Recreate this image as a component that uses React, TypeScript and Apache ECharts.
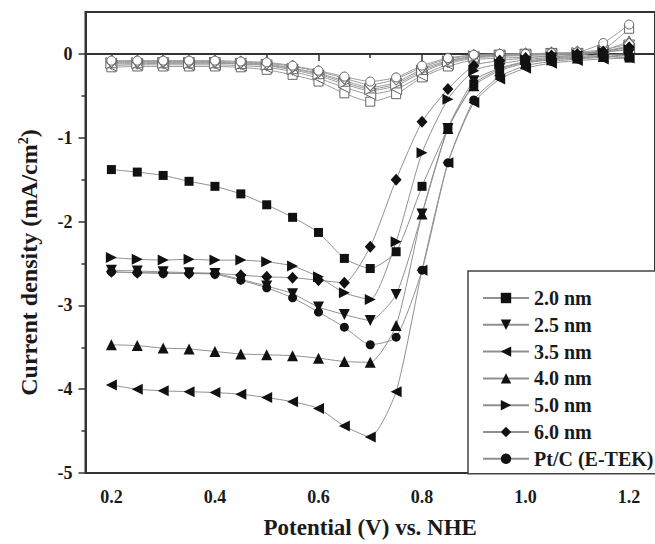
import React, { useEffect, useRef } from "react";
import * as echarts from "echarts";

const potentials = [0.2, 0.25, 0.3, 0.35, 0.4, 0.45, 0.5, 0.55, 0.6, 0.65, 0.7, 0.75, 0.8, 0.85, 0.9, 0.95, 1.0, 1.05, 1.1, 1.15, 1.2];

const seriesNames = ["2.0 nm", "2.5 nm", "3.5 nm", "4.0 nm", "5.0 nm", "6.0 nm", "Pt/C (E-TEK)"];

// O2-saturated (filled markers)
const s20 = [-1.38, -1.41, -1.45, -1.52, -1.58, -1.67, -1.80, -1.95, -2.13, -2.44, -2.56, -2.36, -1.58, -0.89, -0.36, -0.18, -0.10, -0.06, -0.04, -0.03, -0.05];
const s25 = [-2.58, -2.59, -2.60, -2.61, -2.62, -2.69, -2.77, -2.86, -3.02, -3.11, -3.18, -2.87, -1.91, -0.89, -0.32, -0.17, -0.09, -0.05, -0.03, -0.01, 0.0];
const s35 = [-3.95, -4.00, -4.02, -4.03, -4.04, -4.06, -4.10, -4.15, -4.23, -4.44, -4.57, -4.03, -2.58, -1.30, -0.58, -0.30, -0.17, -0.11, -0.08, -0.06, -0.05];
const s40 = [-3.47, -3.48, -3.51, -3.52, -3.55, -3.58, -3.59, -3.60, -3.63, -3.67, -3.68, -3.24, -1.91, -0.89, -0.38, -0.20, -0.11, -0.07, -0.05, -0.03, -0.01];
const s50 = [-2.43, -2.45, -2.46, -2.45, -2.46, -2.46, -2.48, -2.53, -2.66, -2.85, -2.93, -2.24, -1.18, -0.54, -0.20, -0.12, -0.07, -0.04, -0.01, 0.02, 0.05];
const s60 = [-2.60, -2.61, -2.61, -2.62, -2.62, -2.64, -2.66, -2.67, -2.70, -2.73, -2.30, -1.50, -0.81, -0.42, -0.14, -0.08, -0.05, -0.02, 0.0, 0.03, 0.08];
const sPt = [-2.60, -2.61, -2.62, -2.62, -2.63, -2.70, -2.79, -2.91, -3.08, -3.26, -3.47, -3.38, -2.58, -1.30, -0.55, -0.27, -0.14, -0.09, -0.06, -0.04, -0.02];

// background (hollow markers)
const b20 = [-0.16, -0.15, -0.15, -0.15, -0.15, -0.16, -0.19, -0.25, -0.33, -0.47, -0.57, -0.48, -0.28, -0.15, -0.07, -0.05, -0.04, -0.03, -0.02, 0.05, 0.30];
const b25 = [-0.12, -0.12, -0.11, -0.11, -0.11, -0.12, -0.14, -0.19, -0.26, -0.36, -0.44, -0.38, -0.22, -0.10, -0.04, -0.02, -0.01, 0.0, 0.0, 0.03, 0.10];
const b35 = [-0.14, -0.13, -0.13, -0.13, -0.13, -0.14, -0.16, -0.21, -0.29, -0.40, -0.48, -0.42, -0.26, -0.12, -0.05, -0.03, -0.02, -0.01, 0.0, 0.02, 0.06];
const b40 = [-0.10, -0.10, -0.10, -0.10, -0.10, -0.11, -0.12, -0.17, -0.23, -0.32, -0.40, -0.34, -0.18, -0.08, -0.03, -0.01, 0.0, 0.0, 0.01, 0.04, 0.15];
const b50 = [-0.11, -0.11, -0.11, -0.11, -0.11, -0.12, -0.13, -0.18, -0.24, -0.34, -0.42, -0.36, -0.20, -0.09, -0.03, -0.02, -0.01, 0.0, 0.01, 0.03, 0.08];
const b60 = [-0.09, -0.09, -0.09, -0.09, -0.09, -0.10, -0.11, -0.15, -0.21, -0.29, -0.37, -0.30, -0.16, -0.06, -0.02, -0.01, 0.0, 0.01, 0.02, 0.05, 0.12];
const bPt = [-0.08, -0.08, -0.08, -0.08, -0.08, -0.09, -0.10, -0.14, -0.20, -0.27, -0.33, -0.28, -0.14, -0.05, -0.01, 0.0, 0.0, 0.01, 0.02, 0.13, 0.35];

const xTicks = [0.2, 0.4, 0.6, 0.8, 1.0, 1.2];
const xMinorTicks = [0.3, 0.5, 0.7, 0.9, 1.1];
const yTicks = [-5, -4, -3, -2, -1, 0];
const yMinorTicks = [-4.5, -3.5, -2.5, -1.5, -0.5];

const FONT = "'Liberation Serif', 'Times New Roman', 'DejaVu Serif', serif";

const symbols: { symbol: string; rotate: number; size: any }[] = [
  { symbol: "rect", rotate: 0, size: 9 },
  { symbol: "triangle", rotate: 180, size: 11 },
  { symbol: "triangle", rotate: 90, size: 11 },
  { symbol: "triangle", rotate: 0, size: 11 },
  { symbol: "triangle", rotate: -90, size: 11 },
  { symbol: "diamond", rotate: 0, size: [11, 12] },
  { symbol: "circle", rotate: 0, size: 9 },
];

export default function App() {
  const ref = useRef<HTMLDivElement>(null);
  useEffect(() => {
    if (!ref.current) return;
    const chart = echarts.init(ref.current, null, { renderer: "svg" });
    const filled = [s20, s25, s35, s40, s50, s60, sPt];
    const hollow = [b20, b25, b35, b40, b50, b60, bPt];
    const series: any[] = [];
    hollow.forEach((vals, i) => {
      series.push({
        name: seriesNames[i] + " (bg)",
        type: "line",
        data: potentials.map((x, k) => [x, vals[k]]),
        symbol: symbols[i].symbol,
        symbolRotate: symbols[i].rotate,
        symbolSize: symbols[i].size,
        showAllSymbol: true,
        smooth: 0.2,
        lineStyle: { color: "#9a9a9a", width: 1 },
        itemStyle: { color: "#ffffff", borderColor: "#666", borderWidth: 1 },
        z: 2,
      });
    });
    filled.forEach((vals, i) => {
      series.push({
        name: seriesNames[i],
        type: "line",
        data: potentials.map((x, k) => [x, vals[k]]),
        symbol: symbols[i].symbol,
        symbolRotate: symbols[i].rotate,
        symbolSize: symbols[i].size,
        showAllSymbol: true,
        smooth: 0.2,
        lineStyle: { color: "#909090", width: 1 },
        itemStyle: { color: "#111", borderColor: "#111", borderWidth: 0 },
        z: 3,
      });
    });

    const labelStyle = { fontFamily: FONT, fontWeight: "bold" as const, fontSize: 18, color: "#1a1a1a" };

    chart.setOption({
      animation: false,
      backgroundColor: "#ffffff",
      grid: {
        left: 85.5,
        top: 12,
        right: -5,
        bottom: 64,
        show: true,
        borderColor: "#333",
        borderWidth: 2,
        backgroundColor: "transparent",
      },
      legend: {
        data: seriesNames,
        orient: "vertical",
        left: 468,
        top: 271,
        padding: [16, 40, 4, 14],
        itemGap: 4.8,
        itemWidth: 46,
        itemHeight: 13,
        backgroundColor: "#fff",
        borderColor: "#444",
        borderWidth: 1.5,
        borderRadius: 0,
        textStyle: { fontFamily: FONT, fontWeight: "bold", fontSize: 20, color: "#1a1a1a", lineHeight: 22 },
      },
      xAxis: [
        {
          type: "value",
          min: 0.15,
          max: 1.25,
          position: "bottom",
          splitLine: { show: false },
          axisLine: { show: true, lineStyle: { color: "#333", width: 2 } },
          axisTick: { show: true, customValues: xTicks, length: 7, lineStyle: { color: "#333", width: 1.5 } },
          axisLabel: { customValues: xTicks, formatter: (v: number) => v.toFixed(1), margin: 15, ...labelStyle },
          name: "Potential (V) vs. NHE",
          nameLocation: "middle",
          nameGap: 43,
          nameTextStyle: { fontFamily: FONT, fontWeight: "bold", fontSize: 23, color: "#1a1a1a" },
        },
        {
          type: "value",
          min: 0.15,
          max: 1.25,
          position: "bottom",
          splitLine: { show: false },
          axisLine: { show: false },
          axisTick: { show: true, customValues: xMinorTicks, length: 4, lineStyle: { color: "#333", width: 1.5 } },
          axisLabel: { show: false },
        },
      ],
      yAxis: [
        {
          type: "value",
          min: -5,
          max: 0.5,
          position: "left",
          splitLine: { show: false },
          axisLine: { show: true, lineStyle: { color: "#333", width: 2 } },
          axisTick: { show: true, customValues: yTicks, length: 7, lineStyle: { color: "#333", width: 1.5 } },
          axisLabel: { customValues: yTicks, formatter: (v: number) => String(v), margin: 13, ...labelStyle },
          name: "Current density (mA/cm{sup|2})",
          nameLocation: "middle",
          nameGap: 44,
          nameTextStyle: {
            fontFamily: FONT,
            fontWeight: "bold",
            fontSize: 24,
            color: "#1a1a1a",
            padding: [0, 40, 0, 0],
            rich: {
              sup: { fontFamily: FONT, fontWeight: "bold", fontSize: 14, color: "#1a1a1a", padding: [0, 0, 11, 0] },
            },
          },
        },
        {
          type: "value",
          min: -5,
          max: 0.5,
          position: "left",
          splitLine: { show: false },
          axisLine: { show: false },
          axisTick: { show: true, customValues: yMinorTicks, length: 4, lineStyle: { color: "#333", width: 1.5 } },
          axisLabel: { show: false },
        },
      ],
      series,
    });
    return () => chart.dispose();
  }, []);
  return <div ref={ref} style={{ position: "fixed", left: 0, top: 0, width: 655, height: 544, background: "#fff" }} />;
}
